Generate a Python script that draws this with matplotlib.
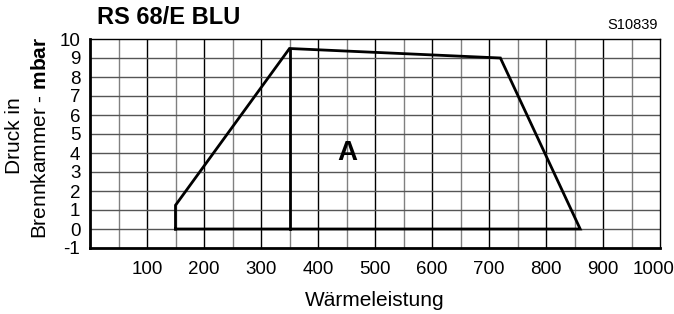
import matplotlib
matplotlib.use("Agg")
import matplotlib.pyplot as plt
import matplotlib.transforms as mtransforms

plt.rcParams['font.family'] = ['Liberation Sans', 'DejaVu Sans']
plt.rcParams['mathtext.fontset'] = 'custom'
plt.rcParams['mathtext.rm'] = 'Liberation Sans'
plt.rcParams['mathtext.bf'] = 'Liberation Sans:bold'
plt.rcParams['axes.unicode_minus'] = False

# data
area_x = [150, 150, 350, 720, 860, 150]
area_y = [0, 1.25, 9.5, 9.0, 0, 0]
divider_x = [350, 350]
divider_y = [0, 9.5]
x_ticks = [100, 200, 300, 400, 500, 600, 700, 800, 900, 1000]
y_ticks = [-1, 0, 1, 2, 3, 4, 5, 6, 7, 8, 9, 10]

fig = plt.figure(figsize=(6.74, 3.14), dpi=100)
ax = fig.add_axes([90/674, 1-248/314, 570/674, 209/314])
ax.set_xlim(0, 1000)
ax.set_ylim(-1, 10)

# grid
for xv in range(50, 1000, 50):
    c = 'black' if xv % 100 == 0 else '#808080'
    ax.axvline(xv, color=c, lw=1.0, zorder=1)
for yv in range(0, 10):
    ax.axhline(yv, color='#555555', lw=1.0, zorder=1)

ax.plot(area_x, area_y, color='black', lw=2.0, zorder=3, solid_joinstyle='miter')
ax.plot(divider_x, divider_y, color='black', lw=2.0, zorder=3)

ax.set_xticks(x_ticks)
ax.set_yticks(y_ticks)
ax.tick_params(length=0, labelsize=13.5)
ax.tick_params(axis='y', pad=7)
ax.tick_params(axis='x', pad=9)
lbls = ax.get_xticklabels()
lbls[-1].set_transform(lbls[-1].get_transform() +
                       mtransforms.ScaledTranslation(-6/100, 0, fig.dpi_scale_trans))
for s in ['top', 'right']:
    ax.spines[s].set_linewidth(1.0)
for s in ['left', 'bottom']:
    ax.spines[s].set_linewidth(2.0)

ax.text(451, 4.0, 'A', fontsize=20, fontweight='bold', ha='center', va='center', zorder=4)

fig.text(97/674, 1-18/314, 'RS 68/E BLU', fontsize=17, fontweight='bold', ha='left', va='center')
fig.text(658/674, 1-25/314, 'S10839', fontsize=10.5, ha='right', va='center')

ax.set_xlabel('Wärmeleistung', fontsize=15, labelpad=10)
fig.text(15/674, 1-136/314, 'Druck in', fontsize=15, rotation=90, ha='center', va='center')
fig.text(41/674, 1-138/314, 'Brennkammer - $\\mathbf{mbar}$', fontsize=15, rotation=90,
         ha='center', va='center')

fig.savefig('out.png', dpi=100)
